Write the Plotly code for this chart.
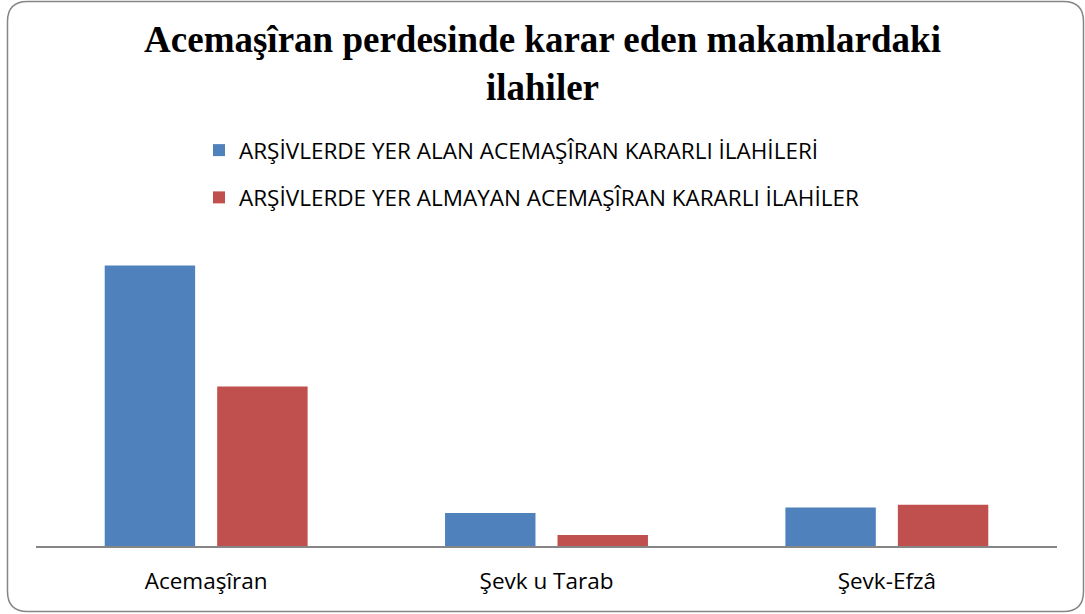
import plotly.graph_objects as go

categories = ["Acemaşîran", "Şevk u Tarab", "Şevk-Efzâ"]
series_names = [
    "ARŞİVLERDE YER ALAN ACEMAŞÎRAN KARARLI İLAHİLERİ",
    "ARŞİVLERDE YER ALMAYAN ACEMAŞÎRAN KARARLI İLAHİLER",
]
alan_values = [102, 12, 14]
almayan_values = [58, 4, 15]
colors = ["#4F81BD", "#C0504D"]

W, H = 1085, 614
L, R, T, B = 36, 28, 230, 68
pw, ph = W - L - R, H - T - B

def px(x):
    return (x - L) / pw

def py(y):
    return (H - B - y) / ph

fig = go.Figure()
for i, (name, vals) in enumerate(zip(series_names, [alan_values, almayan_values])):
    fig.add_trace(go.Bar(
        x=categories, y=vals, name=name,
        marker=dict(color=colors[i], line=dict(width=0)),
        legendgroup=f"g{i}",
    ))

# rounded chart border
x0, x1, y0, y1, r = 7.5, 1083.5, 1.5, 611.5, 20
path = (
    f"M {px(x0 + r)},{py(y0)} L {px(x1 - r)},{py(y0)} "
    f"Q {px(x1)},{py(y0)} {px(x1)},{py(y0 + r)} "
    f"L {px(x1)},{py(y1 - r)} Q {px(x1)},{py(y1)} {px(x1 - r)},{py(y1)} "
    f"L {px(x0 + r)},{py(y1)} Q {px(x0)},{py(y1)} {px(x0)},{py(y1 - r)} "
    f"L {px(x0)},{py(y0 + r)} Q {px(x0)},{py(y0)} {px(x0 + r)},{py(y0)} Z"
)

fig.update_layout(
    width=W, height=H,
    margin=dict(l=L, r=R, t=T, b=B, pad=0),
    paper_bgcolor="white", plot_bgcolor="white",
    title=dict(
        text="<b>Acemaşîran perdesinde karar eden makamlardaki<br>ilahiler</b>",
        font=dict(family="Liberation Serif, Times New Roman, serif", size=37, color="black"),
        x=0.5, xanchor="center", y=1 - 52 / H, yanchor="top",
    ),
    barmode="group", bargap=0.339, bargroupgap=0.196,
    showlegend=True,
    legend=dict(
        x=px(199), y=py(129), xanchor="left", yanchor="top",
        font=dict(family="Open Sans, sans-serif", size=22.5, color="black"),
        tracegroupgap=15, bgcolor="rgba(0,0,0,0)",
        orientation="v",
    ),
    xaxis=dict(
        showline=True, linecolor="#868686", linewidth=1.5,
        ticks="", showgrid=False, zeroline=False,
        tickfont=dict(family="Open Sans, sans-serif", size=22.5, color="black"),
        ticklabelstandoff=14,
    ),
    yaxis=dict(
        range=[0, ph / 2.75], visible=False, showgrid=False, zeroline=False,
    ),
    shapes=[dict(type="path", path=path, xref="paper", yref="paper",
                 line=dict(color="#868686", width=1.5), layer="below")],
)

fig.write_html("out.html", post_script="document.body.style.margin='0';",
               config={"displayModeBar": False})
